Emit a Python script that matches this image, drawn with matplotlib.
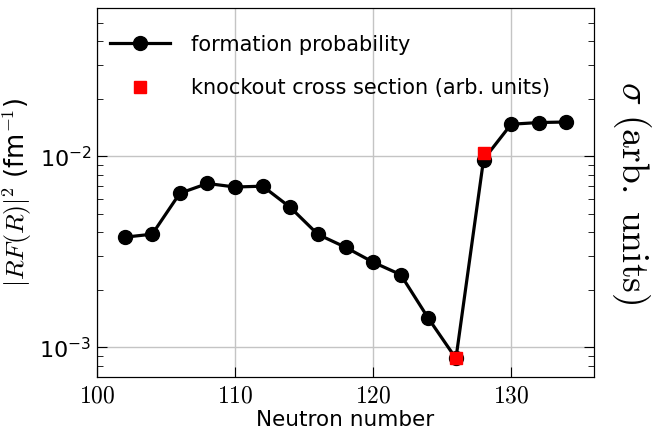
import matplotlib
matplotlib.use("Agg")
import matplotlib.pyplot as plt
from matplotlib.ticker import FuncFormatter, LogLocator, NullFormatter

plt.rcParams['mathtext.fontset'] = 'cm'
plt.rcParams['font.family'] = ['DejaVu Sans']

# data
neutrons = [102, 104, 106, 108, 110, 112, 114, 116, 118, 120,
            122, 124, 126, 128, 130, 132, 134]
formation = [3.77e-3, 3.91e-3, 6.4e-3, 7.2e-3, 6.9e-3, 6.97e-3, 5.4e-3,
             3.9e-3, 3.34e-3, 2.79e-3, 2.4e-3, 1.42e-3, 8.75e-4, 9.6e-3,
             1.47e-2, 1.5e-2, 1.51e-2]
knockout_n = [126, 128]
knockout = [8.75e-4, 1.04e-2]

fig = plt.figure(figsize=(6.52, 4.41), dpi=100)
ax = fig.add_axes([97 / 652, 1 - 377 / 441, (594 - 97) / 652, (377 - 8) / 441])

ax.plot(neutrons, formation, '-o', color='black', lw=2.3, ms=10,
        label='formation probability', zorder=3)
ax.plot(knockout_n, knockout, 's', color='red', ms=8.5, mec='red',
        label='knockout cross section (arb. units)', zorder=4)

ax.set_yscale('log')
ax.set_xlim(100, 136)
ax.set_ylim(7.0e-4, 5.96e-2)
ax.set_xticks([100, 110, 120, 130])
ax.xaxis.set_major_formatter(FuncFormatter(lambda v, p: r'$%d$' % v))
ax.yaxis.set_major_locator(LogLocator(base=10, numticks=10))
ax.yaxis.set_minor_formatter(NullFormatter())
ax.grid(True, which='major', color='#c4c4c4', lw=1)
ax.tick_params(which='both', direction='in', top=False, right=False)
ax.tick_params(which='major', length=7)
ax.tick_params(which='minor', length=4)
ax.tick_params(axis='x', labelsize=17, pad=4.5)
ax.tick_params(axis='y', labelsize=16, pad=4)

ax.set_xlabel('Neutron number', fontsize=15.5, labelpad=2)
ax.set_ylabel(r'$|RF(R)|^2$ (fm$^{-1}$)', fontsize=18.5, labelpad=4)

ax2 = ax.twinx()
ax2.set_yscale('log')
ax2.set_ylim(ax.get_ylim())
ax2.yaxis.set_major_formatter(NullFormatter())
ax2.yaxis.set_minor_formatter(NullFormatter())
ax2.tick_params(which='both', direction='in')
ax2.tick_params(which='major', length=7)
ax2.tick_params(which='minor', length=4)
ax2.set_ylabel(r'$\sigma\ \mathrm{(arb.\ units)}$', fontsize=27,
               rotation=270, labelpad=39)

leg = ax.legend(loc='upper left', bbox_to_anchor=(0, 0.962), frameon=False,
                fontsize=15, handlelength=2.9, borderaxespad=0.2,
                borderpad=0.4, labelspacing=1.15, handletextpad=1.0,
                numpoints=1)

fig.savefig('out.png', dpi=100)
